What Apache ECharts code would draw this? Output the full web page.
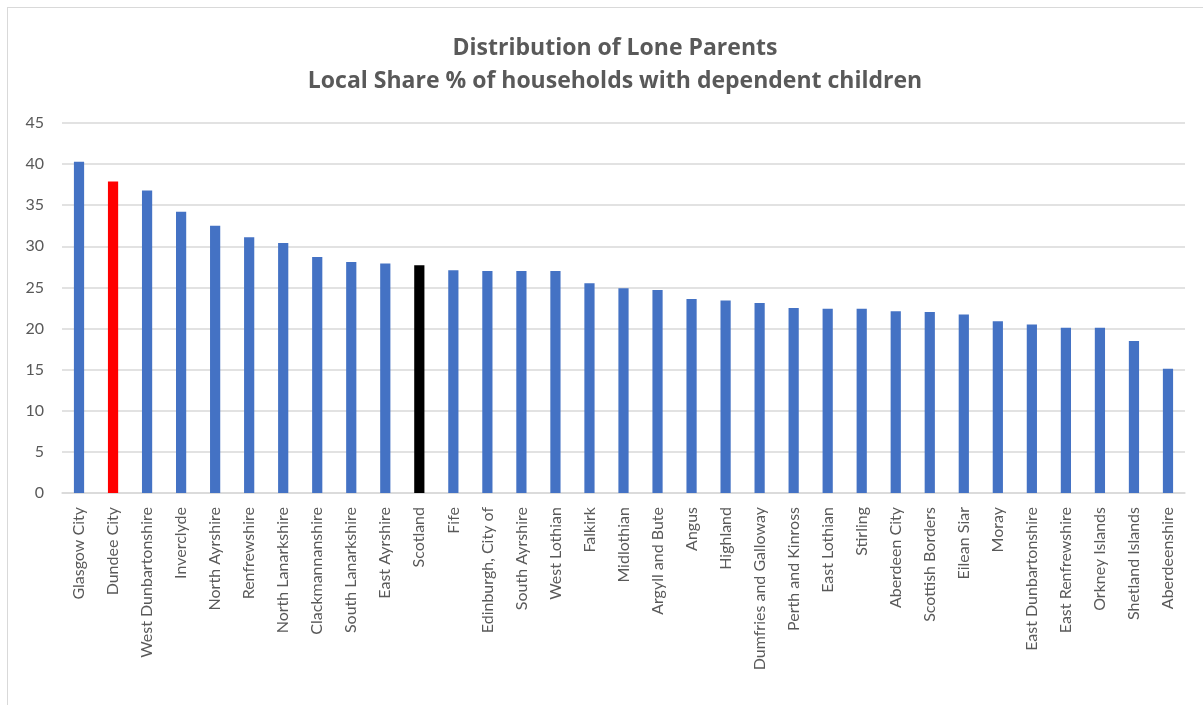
<!DOCTYPE html>
<html>
<head>
<meta charset="utf-8">
<script src="https://cdn.jsdelivr.net/npm/echarts@6/dist/echarts.min.js"></script>
<style>
html,body{margin:0;padding:0;background:#fff;}
#chart{width:1203px;height:705px;}
#frame{position:absolute;left:7px;top:7px;width:1210px;height:720px;border:1.5px solid #d9d9d9;pointer-events:none;box-sizing:border-box;}
</style>
</head>
<body>
<div id="chart"></div>
<div id="frame"></div>
<script>
const categories = ["Glasgow City","Dundee City","West Dunbartonshire","Inverclyde","North Ayrshire","Renfrewshire","North Lanarkshire","Clackmannanshire","South Lanarkshire","East Ayrshire","Scotland","Fife","Edinburgh, City of","South Ayrshire","West Lothian","Falkirk","Midlothian","Argyll and Bute","Angus","Highland","Dumfries and Galloway","Perth and Kinross","East Lothian","Stirling","Aberdeen City","Scottish Borders","Eilean Siar","Moray","East Dunbartonshire","East Renfrewshire","Orkney Islands","Shetland Islands","Aberdeenshire"];
const values = [40.3,37.9,36.8,34.2,32.5,31.1,30.4,28.7,28.1,27.9,27.7,27.1,27.0,27.0,27.0,25.5,24.9,24.7,23.6,23.4,23.1,22.5,22.4,22.4,22.1,22.0,21.7,20.9,20.5,20.1,20.1,18.5,15.1];
const highlightRed = ["Dundee City"];
const highlightBlack = ["Scotland"];
const yTicks = [0,5,10,15,20,25,30,35,40,45];

const chart = echarts.init(document.getElementById('chart'), null, {renderer:'canvas'});
const font = 'Lato, "Open Sans", sans-serif';
chart.setOption({
  animation:false,
  backgroundColor:'#ffffff',
  title:{
    text:'Distribution of Lone Parents\nLocal Share % of households with dependent children',
    left:610, top:27, textAlign:'center',
    textStyle:{fontFamily:'"Open Sans", sans-serif', fontSize:23, fontWeight:'bold', color:'#595959', lineHeight:33}
  },
  grid:{left:62, right:18, top:123, bottom:212, containLabel:false},
  xAxis:{
    type:'category', data:categories,
    axisLine:{lineStyle:{color:'#d9d9d9', width:1.5}},
    axisTick:{show:false},
    axisLabel:{rotate:90, interval:0, margin:14, fontFamily:font, fontSize:16, color:'#595959'}
  },
  yAxis:{
    type:'value', min:yTicks[0], max:yTicks[yTicks.length-1], interval:5,
    axisLine:{show:false}, axisTick:{show:false},
    splitLine:{lineStyle:{color:'#d9d9d9', width:1.5}},
    axisLabel:{margin:18, fontFamily:font, fontSize:16, color:'#595959'}
  },
  series:[{
    type:'bar',
    barWidth:'30%',
    data:categories.map((c,i)=>({
      value:values[i],
      itemStyle:{color: highlightRed.includes(c)?'#FF0000':(highlightBlack.includes(c)?'#000000':'#4472C4')}
    }))
  }]
});
</script>
</body>
</html>
